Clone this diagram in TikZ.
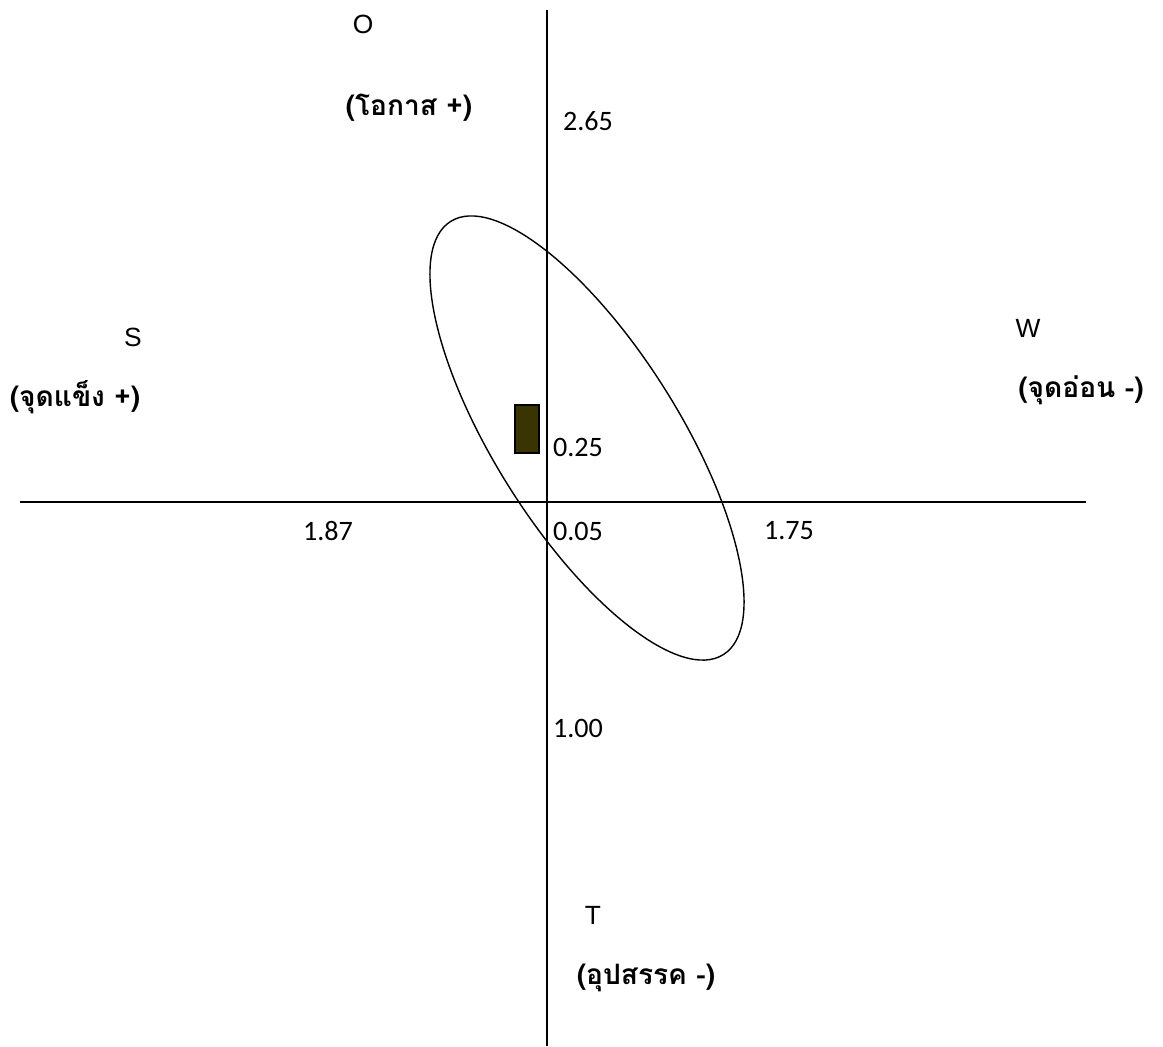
\documentclass[tikz,border=0pt]{standalone}
\usepackage{fontspec}
\setmainfont{Liberation Sans}
\newfontfamily\numfont{Carlito}
\newfontfamily\thaifont[Script=Thai]{Loma}
\usetikzlibrary{positioning,calc}
\definecolor{boxolive}{HTML}{3A3500}

\begin{document}
\begin{tikzpicture}[x=0.02cm, y=-0.02cm,
  axisline/.style={draw=black, line width=0.8pt},
  letterlbl/.style={font=\fontsize{15}{17}\selectfont, inner sep=0pt},
  thailbl/.style={font=\thaifont\bfseries\fontsize{16}{18}\selectfont, inner sep=0pt},
  numlbl/.style={font=\numfont\fontsize{16}{18}\selectfont, inner sep=0pt},
  markbox/.style={draw=black, fill=boxolive, line width=0.8pt, minimum width=0.48cm, minimum height=0.96cm, inner sep=0pt},
]
\useasboundingbox (0,0) rectangle (1163,1046);
% axes
\coordinate (vtop) at (547,10);
\coordinate (vbot) at (547,1046);
\coordinate (hleft) at (20,502);
\coordinate (hright) at (1086,502);
\draw[axisline] (vtop) -- (vbot);
\draw[axisline] (hleft) -- (hright);

% tilted ellipse
\draw[line width=0.8pt] (587,438) ellipse[x radius=5.12cm, y radius=1.84cm, rotate=-57.8];

% marker box
\node[markbox] (mark) at (527,429) {};

% quadrant letters and Thai captions
\node[letterlbl] (lo) at (363,24) {O};
\node[thailbl] (co) at (409,108) {(โอกาส +)};
\node[letterlbl] (ls) at (133,337) {S};
\node[thailbl] (cs) at (75,397) {(จุดแข็ง +)};
\node[letterlbl] (lw) at (1028,328) {W};
\node[thailbl] (cw) at (1081,390) {(จุดอ่อน -)};
\node[letterlbl] (lt) at (593,915) {T};
\node[thailbl] (ct) at (646,978) {(อุปสรรค -)};

% axis values
\node[numlbl] (n265) at (588,121) {2.65};
\node[numlbl] (n025) at (578,447) {0.25};
\node[numlbl] (n187) at (328,531) {1.87};
\node[numlbl] (n005) at (578,531) {0.05};
\node[numlbl] (n175) at (789,531) {1.75};
\node[numlbl] (n100) at (578,728) {1.00};
\end{tikzpicture}
\end{document}
